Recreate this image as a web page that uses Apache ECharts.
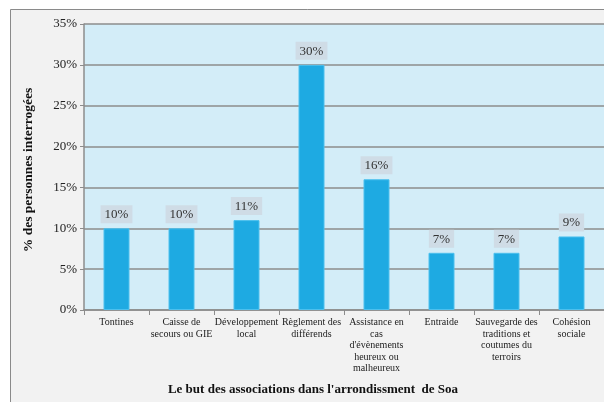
<!DOCTYPE html>
<html><head><meta charset="utf-8">
<script src="https://cdn.jsdelivr.net/npm/echarts@6/dist/echarts.min.js"></script>
<style>html,body{margin:0;padding:0;background:#fff}#c{width:604px;height:402px}</style>
</head><body><div id="c"></div>
<script>
var categories = ["Tontines","Caisse de\nsecours ou GIE","Développement\nlocal","Règlement des\ndifférends","Assistance en\ncas\nd'évènements\nheureux ou\nmalheureux","Entraide","Sauvegarde des\ntraditions et\ncoutumes du\nterroirs","Cohésion\nsociale"];
var values = [10,10,11,30,16,7,7,9];
var yTicks = {min:0,max:35,interval:5};
var yTitle = "% des personnes interrogées";
var xTitle = "Le but des associations dans l'arrondissment  de Soa";
var serif = "'Liberation Serif','DejaVu Serif',serif";
var chart = echarts.init(document.getElementById('c'));
chart.setOption({
  animation:false,
  graphic:[{type:'rect',z:-10,shape:{x:10.5,y:9.5,width:620,height:420},style:{fill:'#f2f2f2',stroke:'#8a8a8a',lineWidth:1}},
    {type:'text',x:313,y:390,style:{text:xTitle,font:"bold 13px "+serif,fill:'#111',align:'center',verticalAlign:'middle'}},
    {type:'text',x:29,y:170,rotation:Math.PI/2,style:{text:yTitle,font:"bold 13.5px "+serif,fill:'#111',align:'center',verticalAlign:'middle'}}
  ],
  grid:{left:84,right:0,top:24,bottom:92,show:true,backgroundColor:'#d3edf8',borderWidth:0},
  xAxis:{type:'category',data:categories,
    axisLine:{lineStyle:{color:'#8c8c8c',width:1.5}},
    axisTick:{show:true,length:5,lineStyle:{color:'#8c8c8c'}},
    axisLabel:{interval:0,fontFamily:serif,fontSize:10,color:'#222',lineHeight:11.5,margin:7}},
  yAxis:{type:'value',min:yTicks.min,max:yTicks.max,interval:yTicks.interval,
    axisLine:{show:true,lineStyle:{color:'#8c8c8c',width:1.5}},
    axisTick:{show:true,length:4,lineStyle:{color:'#8c8c8c'}},
    splitLine:{lineStyle:{color:'#8c8c8c',width:1.5}},
    axisLabel:{formatter:'{value}%',fontFamily:serif,fontSize:13,color:'#222',margin:7}},
  series:[{type:'bar',data:values,barWidth:26,
    itemStyle:{color:'#1eaae2',borderColor:'#4cc0ee',borderWidth:1},
    label:{show:true,position:'top',formatter:'{c}%',fontFamily:serif,fontSize:13,color:'#333',
      backgroundColor:'#cfdce6',padding:[3,4,2,4],distance:5}}]
});
</script></body></html>
